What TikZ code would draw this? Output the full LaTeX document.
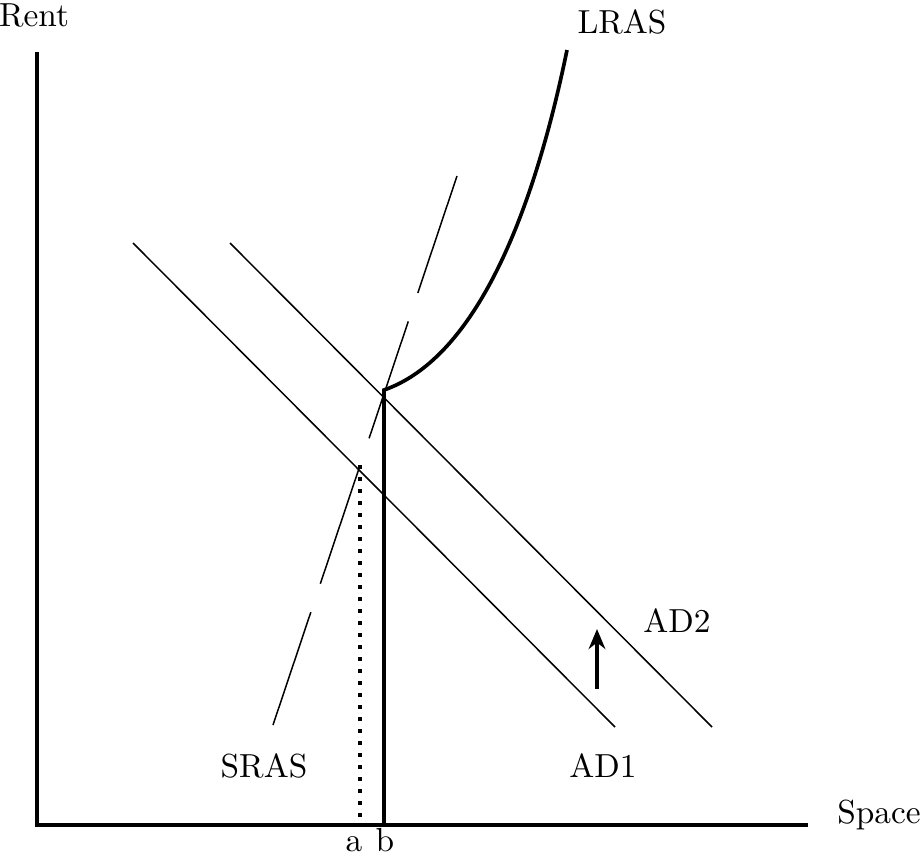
\documentclass[tikz,border=0pt]{standalone}
\usetikzlibrary{arrows.meta}
\begin{document}
\begin{tikzpicture}[x=0.3pt,y=-0.3pt,
  axis/.style={line width=0.95pt},
  thin/.style={line width=0.45pt},
  thick2/.style={line width=0.95pt},
  lbl/.style={inner sep=0pt,font=\fontsize{10}{12}\selectfont},
  srasdash/.style={thin,dash pattern=on 37pt off 9pt}]
\useasboundingbox (0,0) rectangle (921,853);
% axes
\coordinate (O) at (37,825);
\coordinate (ytop) at (37,52);
\coordinate (xend) at (808,825);
\draw[axis] (ytop) -- (O) -- (xend);
\node[lbl] (rent) at (34,15) {Rent};
\node[lbl] (space) at (879,815) {Space};
% AD curves
\coordinate (ad1s) at (133,243);
\coordinate (ad1e) at (615,727);
\coordinate (ad2s) at (230,243);
\coordinate (ad2e) at (712,727);
\draw[thin] (ad1s) -- (ad1e);
\draw[thin] (ad2s) -- (ad2e);
\node[lbl] (ad1) at (603,766) {AD1};
\node[lbl] (ad2) at (677,621) {AD2};
% shift arrow
\coordinate (arrs) at (597,689);
\coordinate (arre) at (597,629);
\draw[thick2,-{Stealth[length=6pt,width=5pt]}] (arrs) -- (arre);
% SRAS
\coordinate (srasb) at (273,725);
\coordinate (srast) at (457,176);
\draw[srasdash] (srast) -- (srasb);
\node[lbl] (sras) at (264,766) {SRAS};
% LRAS
\coordinate (lrasb) at (384,825);
\coordinate (kink) at (384,390);
\coordinate (lrast) at (567,50);
\draw[line width=1.1pt] (lrasb) -- (kink) .. controls (470,360) and (530,230) .. (lrast);
\node[lbl] (lras) at (622,22) {LRAS};
% dotted
\coordinate (dotb) at (360,825);
\coordinate (dott) at (360,465);
\draw[line width=1pt,dash pattern=on 1.2pt off 2.4pt] (dott) -- (dotb);
\node[lbl,anchor=base] (a) at (354,851) {a};
\node[lbl,anchor=base] (b) at (385,851) {b};
\end{tikzpicture}
\end{document}
